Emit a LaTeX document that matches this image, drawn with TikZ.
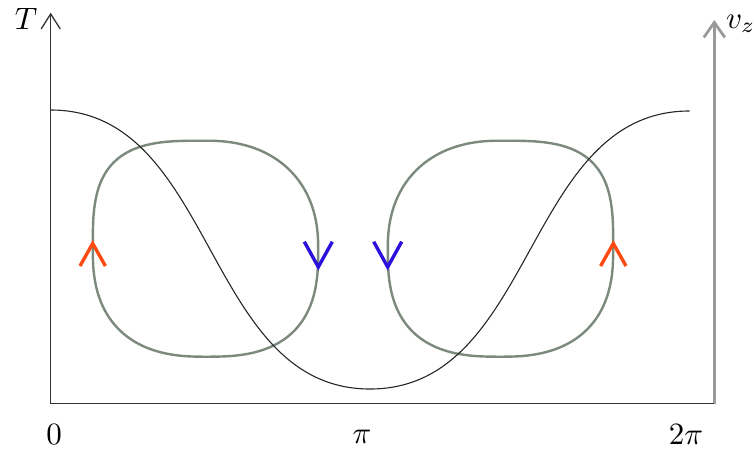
\documentclass[tikz,border=0pt]{standalone}
\usepackage{graphicx}
\usetikzlibrary{arrows.meta}
\definecolor{loopc}{HTML}{7B8A7C}
\definecolor{orng}{HTML}{FF4A12}
\definecolor{blu}{HTML}{2C10DC}
\definecolor{axc}{HTML}{333333}
\definecolor{axg}{HTML}{9A9A9A}
\newcommand\biglab[1]{\scalebox{3.1}{$#1$}}
\def\eA{0.74}\def\eB{0.8}\def\eC{0.62}\def\eD{0.88}
\newcommand\sqloop{%
  \draw[loop] plot[domain=0.5:89.5,samples=40,smooth]
     ({112.7*abs(cos(\x))^\eA},{108*abs(sin(\x))^\eA})
   -- plot[domain=90.5:179.5,samples=40,smooth]
     ({-112.7*abs(cos(\x))^\eB},{108*abs(sin(\x))^\eB})
   -- plot[domain=180.5:269.5,samples=40,smooth]
     ({-112.7*abs(cos(\x))^\eC},{-108*abs(sin(\x))^\eC})
   -- plot[domain=270.5:359.5,samples=40,smooth]
     ({112.7*abs(cos(\x))^\eD},{-108*abs(sin(\x))^\eD}) -- cycle;}
\begin{document}
\begin{tikzpicture}[x=1pt,y=-1pt,
  axis/.style={draw=axc,line width=1.3pt},
  gaxis/.style={draw=axg,line width=2.8pt},
  curve/.style={draw=black!85,line width=1.1pt},
  loop/.style={draw=loopc,line width=2.4pt,line join=round},
  chev/.style={line width=3.4pt,line join=miter,line cap=butt},
  lab/.style={inner sep=0pt}]
\useasboundingbox (0,0) rectangle (754,453);
% axes
\coordinate (O) at (50.7,403.7);
\coordinate (Ttop) at (50.7,12.7);
\coordinate (R) at (714.3,403.7);
\coordinate (Vtop) at (714.3,20);
\draw[gaxis,-{Straight Barb[length=15pt,width=21pt]}] (R) -- (Vtop);
\draw[axis,-{Straight Barb[length=15pt,width=19pt]}] (O) -- (Ttop);
\draw[axis] (O) -- (R);
% loops
\begin{scope}[shift={(205.5,248.7)}]
\sqloop
\end{scope}
\begin{scope}[shift={(500.5,248.7)},xscale=-1]
\sqloop
\end{scope}
% black curve
\draw[curve] (50.7,110) .. controls (216,110) and (204,389) .. (370,389)
  .. controls (536,389) and (524,111) .. (689.5,111);
% chevrons
\draw[chev,orng] (80,266) -- (92.7,243.5) -- (105.4,266);
\draw[chev,orng] (600.6,266) -- (613.3,243.5) -- (626,266);
\draw[chev,blu] (304.3,241.7) -- (318.3,267) -- (332.3,241.7);
\draw[chev,blu] (373.7,241.7) -- (387.7,267) -- (401.7,241.7);
% labels
\node[lab] (lT) at (26,19) {\biglab{T}};
\node[lab,anchor=west] (lv) at (726,24) {\biglab{v_z}};
\node[lab] (l0) at (54,435) {\biglab{0}};
\node[lab] (lpi) at (362,437) {\biglab{\pi}};
\node[lab] (l2pi) at (686,435) {\biglab{2\pi}};
\end{tikzpicture}
\end{document}
